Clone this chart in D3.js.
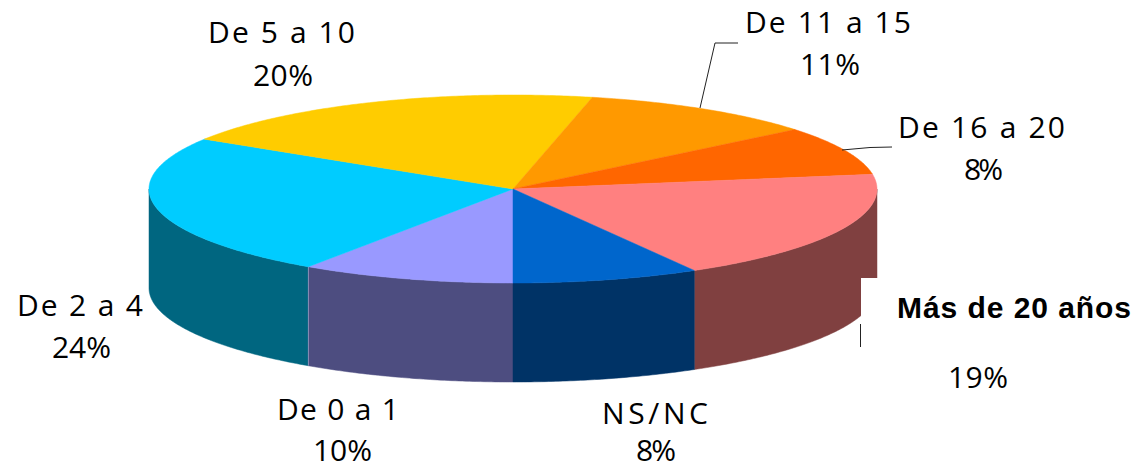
<!DOCTYPE html>
<html>
<head>
<meta charset="utf-8">
<style>
  html, body { margin: 0; padding: 0; background: #fff; }
  text { font-family: "Open Sans", "DejaVu Sans", sans-serif; fill: #000; }
</style>
<script src="https://cdn.jsdelivr.net/npm/d3@7"></script>
</head>
<body>
<div id="chart"></div>
<script>
// values run clockwise from the front of the pie, unrounded estimates of the labelled shares
var categories = ['De 0 a 1', 'De 2 a 4', 'De 5 a 10', 'De 11 a 15', 'De 16 a 20', 'Más de 20 años', 'NS/NC'];
var values = [9.5, 24.4, 19.6, 10.6, 8.4, 19.2, 8.3];
var topColors = ['#9999FF', '#00CCFF', '#FFCC00', '#FF9900', '#FF6600', '#FF8080', '#0066CC'];
var sideColors = ['#4D4D80', '#006680', '#806600', '#804D00', '#803300', '#804040', '#003366'];

// where the labels sit: left edge, width of name, baseline of name, then the same for the percentage
var labelLayout = [
  [277, 122, 420, 313, 59, 461],
  [17, 126, 316, 52, 59, 358],
  [208, 147, 43, 253, 60, 86],
  [745, 166, 33, 800, 60, 75],
  [898, 167, 138, 964, 39, 180],
  [897, 234, 318, 948, 60, 388],
  [602, 106, 424, 636, 40, 461]
];
var leaders = [
  [[700, 108], [715, 43], [738, 43]],
  [[842, 150], [870, 147.5], [892, 147]],
  [[860.5, 324], [860.5, 347]]
];

var w = 1135;
var h = 470;
var depth = 99;

var svg = d3.select('#chart').append('svg')
  .attr('width', w)
  .attr('height', h)
  .style('display', 'block');

var xScale = d3.scaleLinear().domain([-1, 1]).range([149, 877]);
var yScale = d3.scaleLinear().domain([-1, 1]).range([95, 283]);

var pie = d3.pie().sort(null).value(function (d) { return d; })
  .startAngle(Math.PI).endAngle(3 * Math.PI);
var slices = pie(values);

function rim(a0, a1) {
  var n = Math.max(2, Math.ceil(Math.abs(a1 - a0) / 0.01));
  return d3.range(n + 1).map(function (i) {
    var a = a0 + (a1 - a0) * i / n;
    return [Math.sin(a), -Math.cos(a)];
  });
}

var line = d3.line()
  .x(function (d) { return xScale(d[0]); })
  .y(function (d) { return yScale(d[1]) + (d[2] || 0); });

// walls first, only the part facing the viewer (sin/cos seen from the front half)
slices.forEach(function (s, i) {
  [[Math.PI / 2, Math.PI * 3 / 2], [Math.PI * 5 / 2, Math.PI * 7 / 2]].forEach(function (front) {
    var a0 = Math.max(s.startAngle, front[0]);
    var a1 = Math.min(s.endAngle, front[1]);
    if (a1 <= a0) return;
    var upper = rim(a0, a1);
    var lower = upper.slice().reverse().map(function (p) { return [p[0], p[1], depth]; });
    svg.append('path')
      .attr('d', line(upper.concat(lower)) + 'Z')
      .attr('fill', sideColors[i])
      .attr('stroke', sideColors[i])
      .attr('stroke-width', 0.5);
  });
});

// pale seam between the two left walls
var seam = rim(slices[0].endAngle, slices[0].endAngle)[0];
svg.append('path')
  .attr('d', line([seam, [seam[0], seam[1], depth]]))
  .attr('stroke', '#8F8FB8')
  .attr('stroke-width', 1)
  .attr('fill', 'none');

// top face
slices.forEach(function (s, i) {
  svg.append('path')
    .attr('d', line([[0, 0]].concat(rim(s.startAngle, s.endAngle))) + 'Z')
    .attr('fill', topColors[i])
    .attr('stroke', topColors[i])
    .attr('stroke-width', 0.5);
});

// white box behind the Más de 20 años label hides a corner of the wall
svg.append('rect')
  .attr('x', 861)
  .attr('y', 278)
  .attr('width', w - 861)
  .attr('height', 130)
  .attr('fill', '#fff');

leaders.forEach(function (pts) {
  svg.append('path')
    .attr('d', d3.line()(pts))
    .attr('fill', 'none')
    .attr('stroke', '#222')
    .attr('stroke-width', 1);
});

var labels = svg.selectAll('g.label').data(categories).enter().append('g').attr('class', 'label');

labels.append('text')
  .attr('x', function (d, i) { return labelLayout[i][0]; })
  .attr('y', function (d, i) { return labelLayout[i][2]; })
  .attr('textLength', function (d, i) { return labelLayout[i][1]; })
  .style('font-size', '30px')
  .style('font-family', function (d, i) { return i === 5 ? '"Liberation Sans", Arial, sans-serif' : null; })
  .style('font-weight', function (d, i) { return i === 5 ? 'bold' : null; })
  .text(function (d) { return d; });

labels.append('text')
  .attr('x', function (d, i) { return labelLayout[i][3]; })
  .attr('y', function (d, i) { return labelLayout[i][5]; })
  .attr('textLength', function (d, i) { return labelLayout[i][4]; })
  .style('font-size', '30px')
  .text(function (d, i) { return Math.round(values[i]) + '%'; });
</script>
</body>
</html>
